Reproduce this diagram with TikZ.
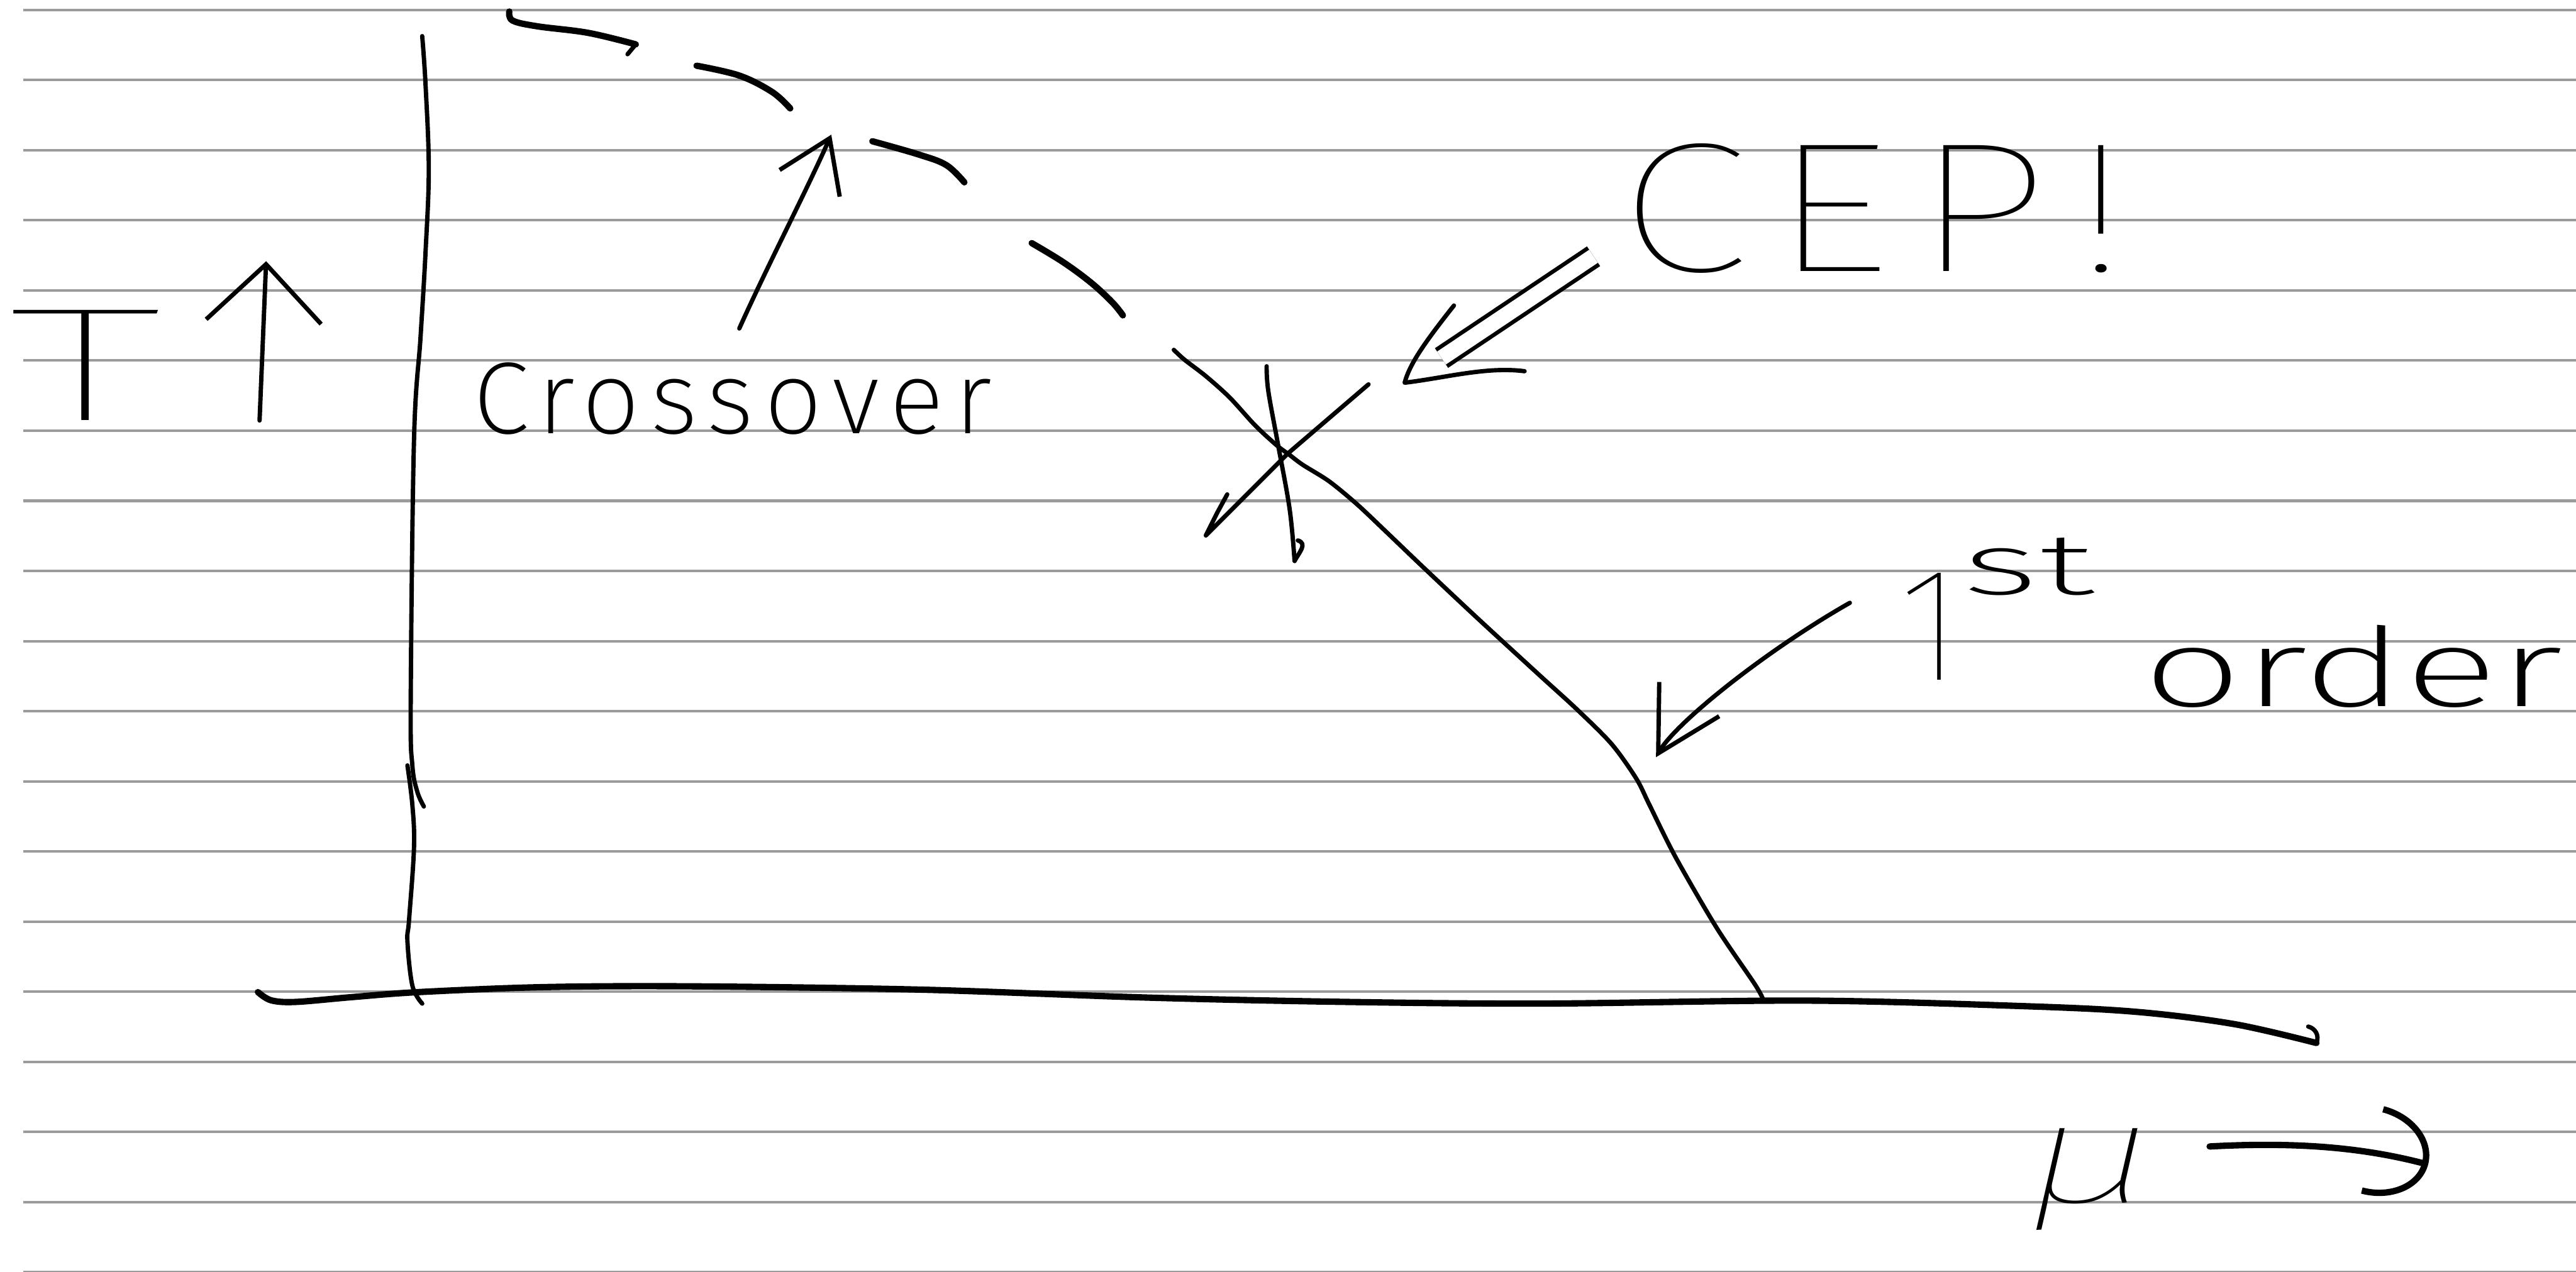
\documentclass[tikz,border=0pt]{standalone}
\usepackage{fontspec}
\usepackage{graphicx}
\newfontfamily\hand{Fira Sans Thin}
\newfontfamily\handx{Fira Sans ExtraLight}
\newfontfamily\handit{Fira Sans Thin Italic}
\usetikzlibrary{arrows.meta}
\definecolor{rulegray}{RGB}{155,155,155}
\begin{document}
\begin{tikzpicture}[x=0.01cm,y=-0.01cm,
  pen/.style={line width=0.75pt, line cap=round, line join=round},
  heavypen/.style={line width=1.1pt, line cap=round, line join=round},
  ruled/.style={draw=rulegray, line width=0.45pt},
  lbl/.style={inner sep=0pt, outer sep=0pt}]
% page
\fill[white] (0,0) rectangle (1568,774.4);
\useasboundingbox (0,0) rectangle (1568,774.4);
% ruled paper
\foreach \k in {0,...,18} {\draw[ruled] (14,{6+42.7*\k}) -- (1568,{6+42.7*\k});}

% T axis (two strokes)
\draw[pen] plot[smooth, tension=0.6] coordinates {(257,22) (259,51) (261,103) (259,154) (256,205) (252,268) (250,428) (251,466) (254,482) (258,491)};
\draw[pen] plot[smooth, tension=0.6] coordinates {(248,466) (251,490) (252,516) (249,560) (248,573) (251,600) (257,611)};
% mu axis
\draw[heavypen] plot[smooth, tension=0.55] coordinates {(157,604) (165,609) (180,610) (215,607) (255,604) (330,601) (420,600.5) (560,602.5) (700,607.4) (820,610) (940,611) (1100,609.2) (1230,612.5) (1300,616) (1360,623.5) (1410,635)};
\draw[pen] (1410,635) .. controls (1412,630) and (1409,626) .. (1405,625);

% crossover (dashed) line, drawn as separate dashes
\draw[heavypen] plot[smooth, tension=0.6] coordinates {(310,7) (312,12.5) (327,16) (358,20) (387,27)};
\draw[pen] (387,27) -- (382,33);
\draw[heavypen] plot[smooth, tension=0.6] coordinates {(424,40) (450,46) (470,56) (481,66)};
\draw[heavypen] plot[smooth, tension=0.6] coordinates {(531,86) (559,94) (576,100.5) (587,111)};
\draw[heavypen] plot[smooth, tension=0.6] coordinates {(628,148) (647,159.5) (664,172) (677,184) (683.5,192)};

% first order line
\draw[pen] plot[smooth, tension=0.5] coordinates {(714.5,213) (721,219) (734,229) (748.5,242) (764,259) (777,271) (785,277) (793,283) (809,293) (826,307) (844,324) (867,346) (900,377) (937,411) (960,432) (981,453) (996,474) (1004,490) (1020,522) (1045,565) (1068,599) (1073,608)};

% CEP cross
\coordinate (cep) at (781,275);
\draw[pen] plot[smooth, tension=0.6] coordinates {(771,223) (772,238) (778,271) (785,310) (788,341.5)};
\draw[pen] (788,341.5) .. controls (791,336) and (796,331) .. (790,329);
\draw[pen] (833,234) -- (784,276) -- (734,326) -- (741,312) -- (747,301);

% T label and arrow
\node[lbl, anchor=base west] (T) at (5,256) {\hand\fontsize{28}{28}\selectfont\scalebox{2.0}[1]{T}};
\coordinate (Tbase) at (158,256);
\coordinate (Ttip) at (162,159);
\draw[pen, -{Straight Barb[length=3.5mm,width=7mm]}] (Tbase) -- (Ttip);

% Crossover label and arrow
\node[lbl, anchor=base west] (crossover) at (288,264) {\handx\fontsize{17.7}{17.7}\selectfont\addfontfeature{LetterSpace=10}Crossover};
\coordinate (xoTail) at (450,200);
\coordinate (xoHead) at (506,82);
\draw[pen, -{Straight Barb[length=3mm,width=4mm]}] (xoTail) .. controls (468,160) and (490,118) .. (xoHead);

% CEP label and double arrow
\node[lbl, anchor=base west] (ceplabel) at (985,165) {\hand\fontsize{32}{32}\selectfont\addfontfeature{LetterSpace=10}\scalebox{1.3}[1]{CEP!}};
\coordinate (cepTail) at (970,156);
\coordinate (cepHead) at (855,233);
\coordinate (cepBarbL) at (885,186);
\coordinate (cepBarbR) at (928,226);
\draw[line width=0.7pt, line cap=butt, double, double distance=2.7pt, shorten >=0.27cm] (cepTail) -- (cepHead);
\draw[pen] (cepBarbL) .. controls (866,210) and (858,222) .. (cepHead) .. controls (880,230) and (905,223) .. (cepBarbR);

% 1st order label and arrow
\node[lbl, anchor=base west] (first) at (1156,414) {\hand\fontsize{28}{28}\selectfont 1\raisebox{0.52cm}{\handx\fontsize{15}{15}\selectfont\scalebox{1.9}[1]{st}}\hspace{0.3cm}\raisebox{-0.16cm}{\handx\fontsize{19}{19}\selectfont\scalebox{1.6}[1]{order}}};
\coordinate (foTail) at (1126,367);
\coordinate (foHead) at (1008,461);
\draw[pen, -{Straight Barb[length=3.8mm,width=4.2mm]}] (foTail) .. controls (1075,396) and (1020,440) .. (foHead);

% mu label and arrow
\node[lbl, anchor=base] (mu) at (1273,732) {\handit\fontsize{19}{19}\selectfont\scalebox{2.1}[1.3]{μ}};
\coordinate (muTail) at (1345,698);
\coordinate (muHead) at (1478,709);
\draw[heavypen, -{Arc Barb[length=3.5mm,width=5.5mm]}] (muTail) .. controls (1400,695) and (1440,699) .. (muHead);
\end{tikzpicture}
\end{document}
